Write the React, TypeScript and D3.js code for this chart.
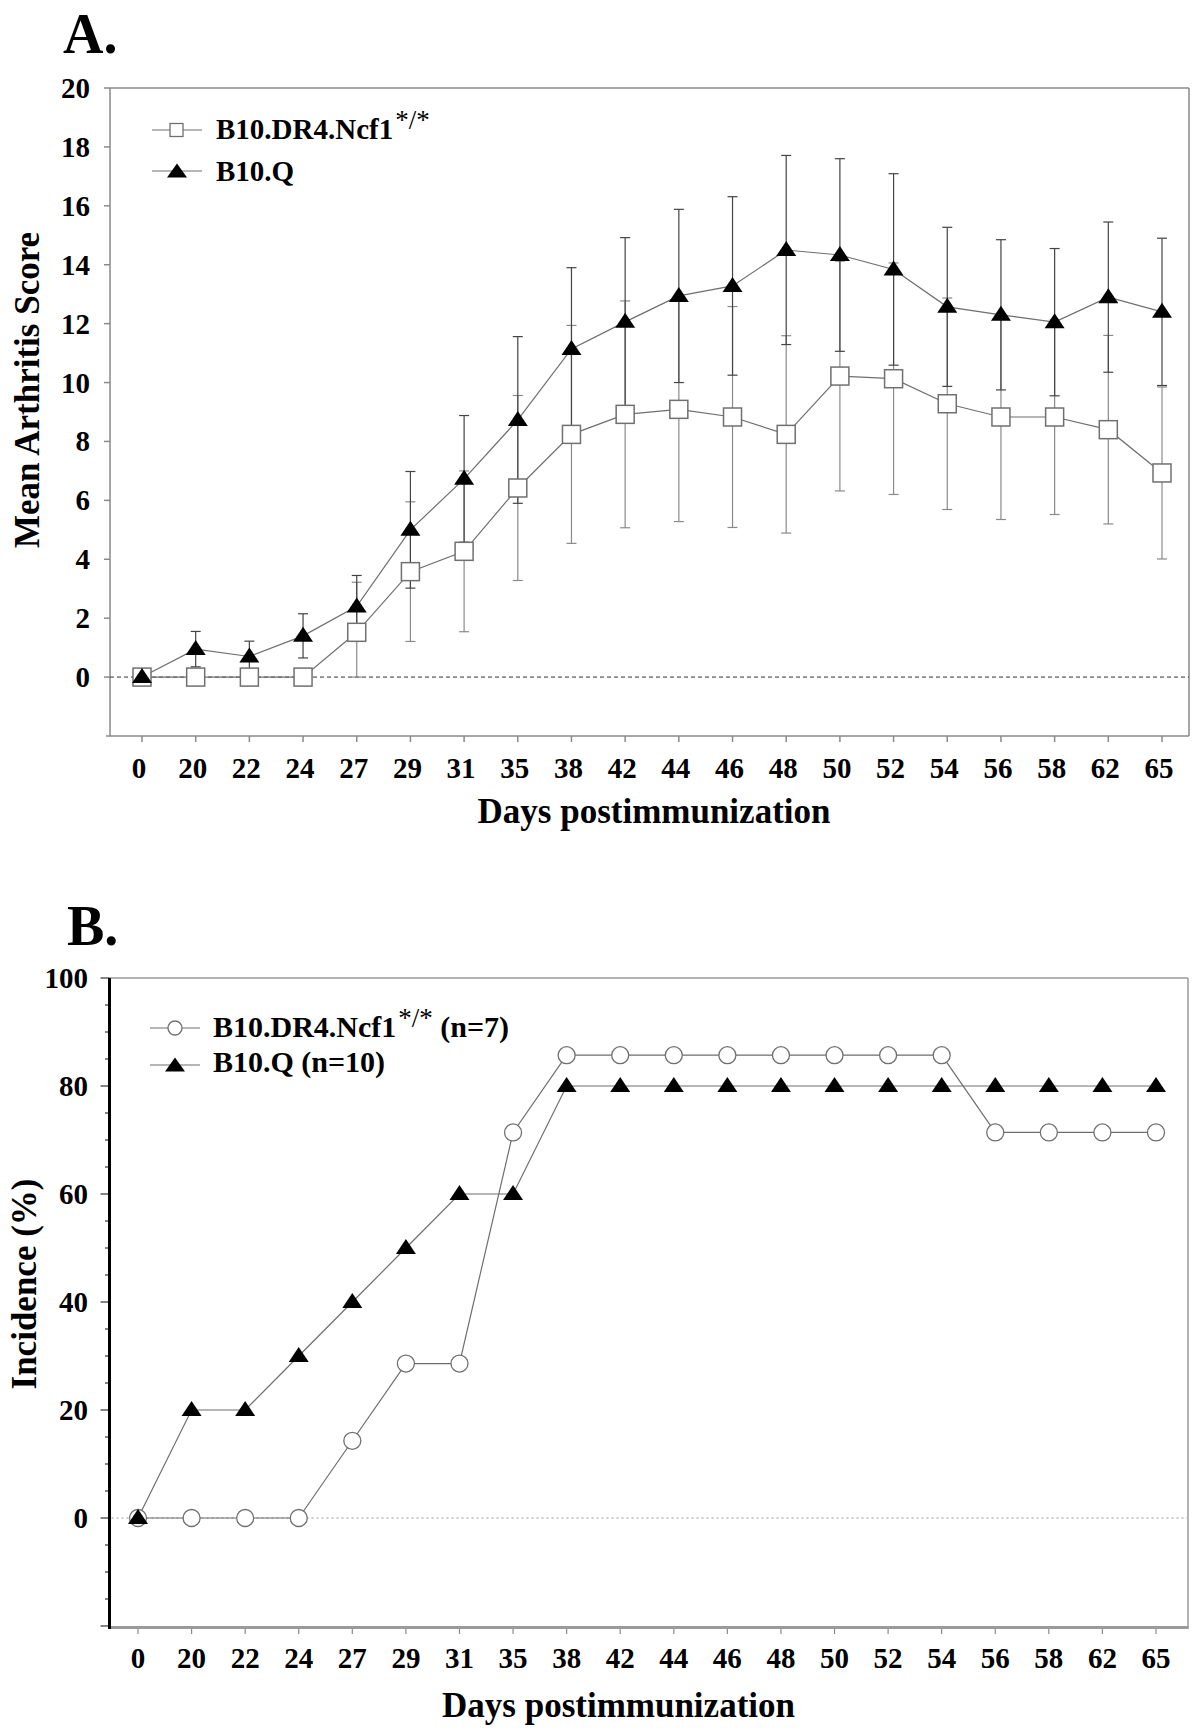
import React from 'react';
import * as d3 from 'd3';

// ---------- data ----------
const days = ['0', '20', '22', '24', '27', '29', '31', '35', '38', '42', '44', '46', '48', '50', '52', '54', '56', '58', '62', '65'];

// Panel A: mean arthritis score
const scoreDR4 = [0, 0, 0, 0, 1.52, 3.58, 4.27, 6.42, 8.24, 8.92, 9.09, 8.83, 8.24, 10.22, 10.13, 9.28, 8.83, 8.83, 8.4, 6.93];
const sdDR4 = [0, 0, 0, 0, 1.7, 2.37, 2.73, 3.14, 3.7, 3.85, 3.81, 3.75, 3.35, 3.9, 3.93, 3.59, 3.48, 3.31, 3.2, 2.92];
const scoreQ = [0, 0.95, 0.7, 1.4, 2.4, 5.0, 6.73, 8.73, 11.14, 12.06, 12.94, 13.28, 14.5, 14.33, 13.84, 12.57, 12.3, 12.05, 12.9, 12.4];
const sdQ = [0, 0.6, 0.52, 0.75, 1.05, 1.98, 2.15, 2.83, 2.76, 2.86, 2.94, 3.03, 3.21, 3.27, 3.25, 2.7, 2.55, 2.5, 2.55, 2.5];
const scoreTicks = [0, 2, 4, 6, 8, 10, 12, 14, 16, 18, 20];

// Panel B: incidence (%)
const incDR4 = [0, 0, 0, 0, 14.3, 28.6, 28.6, 71.4, 85.7, 85.7, 85.7, 85.7, 85.7, 85.7, 85.7, 85.7, 71.4, 71.4, 71.4, 71.4];
const incQ = [0, 20, 20, 30, 40, 50, 60, 60, 80, 80, 80, 80, 80, 80, 80, 80, 80, 80, 80, 80];
const incTicks = [0, 20, 40, 60, 80, 100];
const incMinorTicks = d3.range(-20, 101, 5);

const legendA = ['B10.DR4.Ncf1', 'B10.Q'];
const legendB = ['B10.DR4.Ncf1', 'B10.Q (n=10)'];

// ---------- styles ----------
const FONT = '"Liberation Serif", "Times New Roman", Times, serif';
const LINE_C = '#6e6e6e';
const FRAME_C = '#8a8a8a';

function triPath(cx: number, cy: number, w = 20, h = 15) {
  return `M${cx},${cy - h * 0.6}L${cx + w / 2},${cy + h * 0.4}L${cx - w / 2},${cy + h * 0.4}Z`;
}

function PanelA() {
  const x = d3.scalePoint<string>().domain(days).range([142, 1162]);
  const y = d3.scaleLinear().domain([-2, 20]).range([736, 88]);
  const left = 110, right = 1189, top = y(20), bottom = y(-2);
  const line = d3.line<number>().x((_, i) => x(days[i])!).y((d) => y(d));

  const errBars = (vals: number[], sds: number[], color: string, key: string) =>
    vals.map((v, i) => {
      if (!sds[i]) return null;
      const cx = x(days[i])!;
      const y1 = y(Math.max(0, v - sds[i]));
      const y2 = y(v + sds[i]);
      return (
        <g key={key + i} stroke={color} strokeWidth={1.2}>
          <line x1={cx} x2={cx} y1={y1} y2={y2} />
          <line x1={cx - 5} x2={cx + 5} y1={y1} y2={y1} />
          <line x1={cx - 5} x2={cx + 5} y1={y2} y2={y2} />
        </g>
      );
    });

  return (
    <g>
      <text x={63} y={53} fontFamily={FONT} fontWeight="bold" fontSize={56}>A.</text>
      {/* frame */}
      <g stroke={FRAME_C} strokeWidth={1.5} fill="none">
        <line x1={left} x2={left} y1={top} y2={bottom} />
        <line x1={left - 4} x2={right} y1={bottom} y2={bottom} />
        <line x1={left} x2={right} y1={top} y2={top} />
        <line x1={right} x2={right} y1={top} y2={bottom} />
      </g>
      {/* y ticks */}
      {scoreTicks.map((t) => (
        <g key={'ya' + t}>
          <line x1={left - 6} x2={left} y1={y(t)} y2={y(t)} stroke={FRAME_C} strokeWidth={1.5} />
          <text x={90} y={y(t) + 10} textAnchor="end" fontFamily={FONT} fontWeight="bold" fontSize={29}>{t}</text>
        </g>
      ))}
      {/* x ticks */}
      {days.map((d) => (
        <g key={'xa' + d}>
          <line x1={x(d)} x2={x(d)} y1={bottom} y2={bottom + 6} stroke={FRAME_C} strokeWidth={1.5} />
          <text x={x(d)! - 3} y={778} textAnchor="middle" fontFamily={FONT} fontWeight="bold" fontSize={29}>{d}</text>
        </g>
      ))}
      <text x={654} y={823} textAnchor="middle" fontFamily={FONT} fontWeight="bold" fontSize={35}>Days postimmunization</text>
      <text transform={`translate(39,390) rotate(-90)`} textAnchor="middle" fontFamily={FONT} fontWeight="bold" fontSize={35}>Mean Arthritis Score</text>
      {/* zero line */}
      <line x1={left} x2={right} y1={y(0)} y2={y(0)} stroke="#333" strokeWidth={1} strokeDasharray="4,3" />
      {/* error bars */}
      {errBars(scoreDR4, sdDR4, '#8a8a8a', 'eb1')}
      {errBars(scoreQ, sdQ, '#444', 'eb2')}
      {/* lines */}
      <path d={line(scoreDR4)!} fill="none" stroke={LINE_C} strokeWidth={1.2} />
      <path d={line(scoreQ)!} fill="none" stroke={LINE_C} strokeWidth={1.2} />
      {/* markers */}
      {scoreDR4.map((v, i) => (
        <rect key={'sq' + i} x={x(days[i])! - 9} y={y(v) - 9} width={18} height={18} fill="#fff" stroke="#707070" strokeWidth={1.5} />
      ))}
      {scoreQ.map((v, i) => (
        <path key={'tq' + i} d={triPath(x(days[i])!, y(v))} fill="#000" />
      ))}
      {/* legend */}
      <g>
        <line x1={152} x2={202} y1={130} y2={130} stroke={LINE_C} strokeWidth={1.2} />
        <rect x={170} y={123.5} width={13} height={13} fill="#fff" stroke="#707070" strokeWidth={1.3} />
        <text x={216} y={139} fontFamily={FONT} fontWeight="bold" fontSize={29}>
          {legendA[0]}
          <tspan dx={2} dy={-10} fontSize={27} fontWeight="normal">*/*</tspan>
        </text>
        <line x1={152} x2={202} y1={171} y2={171} stroke={LINE_C} strokeWidth={1.2} />
        <path d={triPath(177, 172, 20, 14)} fill="#000" />
        <text x={216} y={181} fontFamily={FONT} fontWeight="bold" fontSize={29}>{legendA[1]}</text>
      </g>
    </g>
  );
}

function PanelB() {
  const x = d3.scalePoint<string>().domain(days).range([138, 1156]);
  const y = d3.scaleLinear().domain([-20, 100]).range([1626, 978]);
  const left = 109.5, right = 1188, top = y(100), bottom = y(-20);
  const line = d3.line<number>().x((_, i) => x(days[i])!).y((d) => y(d));

  return (
    <g>
      <text x={67} y={945} fontFamily={FONT} fontWeight="bold" fontSize={56}>B.</text>
      {/* frame */}
      <line x1={left} x2={right} y1={top} y2={top} stroke="#9a9a9a" strokeWidth={1.5} />
      <line x1={right} x2={right} y1={top} y2={bottom + 1} stroke="#9a9a9a" strokeWidth={1.5} />
      <line x1={left} x2={right + 0.75} y1={bottom + 1.5} y2={bottom + 1.5} stroke="#9a9a9a" strokeWidth={3} />
      {/* minor y ticks */}
      {incMinorTicks.map((t) => (
        <line key={'mb' + t} x1={left - (t % 20 === 0 ? 9 : 4.5)} x2={left} y1={y(t)} y2={y(t)} stroke="#333" strokeWidth={1.2} />
      ))}
      <line x1={left} x2={left} y1={top} y2={bottom + 3} stroke="#000" strokeWidth={3} />
      {incTicks.map((t) => (
        <text key={'yb' + t} x={88} y={y(t) + 10} textAnchor="end" fontFamily={FONT} fontWeight="bold" fontSize={29}>{t}</text>
      ))}
      {days.map((d) => (
        <g key={'xb' + d}>
          <line x1={x(d)} x2={x(d)} y1={bottom + 3} y2={bottom + 8} stroke={FRAME_C} strokeWidth={1.2} />
          <text x={x(d)} y={1668} textAnchor="middle" fontFamily={FONT} fontWeight="bold" fontSize={29}>{d}</text>
        </g>
      ))}
      <text x={618.5} y={1717} textAnchor="middle" fontFamily={FONT} fontWeight="bold" fontSize={35}>Days postimmunization</text>
      <text transform={`translate(36,1284) rotate(-90)`} textAnchor="middle" fontFamily={FONT} fontWeight="bold" fontSize={35}>Incidence (%)</text>
      {/* zero dotted line */}
      <line x1={left + 2} x2={right - 1} y1={y(0)} y2={y(0)} stroke="#999" strokeWidth={1.2} strokeDasharray="2,3" />
      {/* lines */}
      <path d={line(incDR4)!} fill="none" stroke={LINE_C} strokeWidth={1.2} />
      <path d={line(incQ)!} fill="none" stroke={LINE_C} strokeWidth={1.2} />
      {incDR4.map((v, i) => (
        <circle key={'cb' + i} cx={x(days[i])} cy={y(v)} r={8.5} fill="#fff" stroke="#707070" strokeWidth={1.3} />
      ))}
      {incQ.map((v, i) => (
        <path key={'tb' + i} d={triPath(x(days[i])!, y(v))} fill="#000" />
      ))}
      {/* legend */}
      <g>
        <line x1={150} x2={200} y1={1028} y2={1028} stroke={LINE_C} strokeWidth={1.2} />
        <circle cx={175} cy={1028} r={7} fill="#fff" stroke="#707070" strokeWidth={1.3} />
        <text x={213} y={1037} fontFamily={FONT} fontWeight="bold" fontSize={30}>
          {legendB[0]}
          <tspan dx={2} dy={-10} fontSize={27} fontWeight="normal">*/*</tspan>
          <tspan dy={10}> (n=7)</tspan>
        </text>
        <line x1={150} x2={200} y1={1065} y2={1065} stroke={LINE_C} strokeWidth={1.2} />
        <path d={triPath(175, 1066, 20, 14)} fill="#000" />
        <text x={213} y={1072} fontFamily={FONT} fontWeight="bold" fontSize={30}>{legendB[1]}</text>
      </g>
    </g>
  );
}

export default function App() {
  return (
    <svg
      width={1200}
      height={1731}
      viewBox="0 0 1200 1731"
      style={{ position: 'absolute', left: 0, top: 0, background: '#fff' }}
    >
      <rect x={0} y={0} width={1200} height={1731} fill="#fff" />
      <PanelA />
      <PanelB />
    </svg>
  );
}
